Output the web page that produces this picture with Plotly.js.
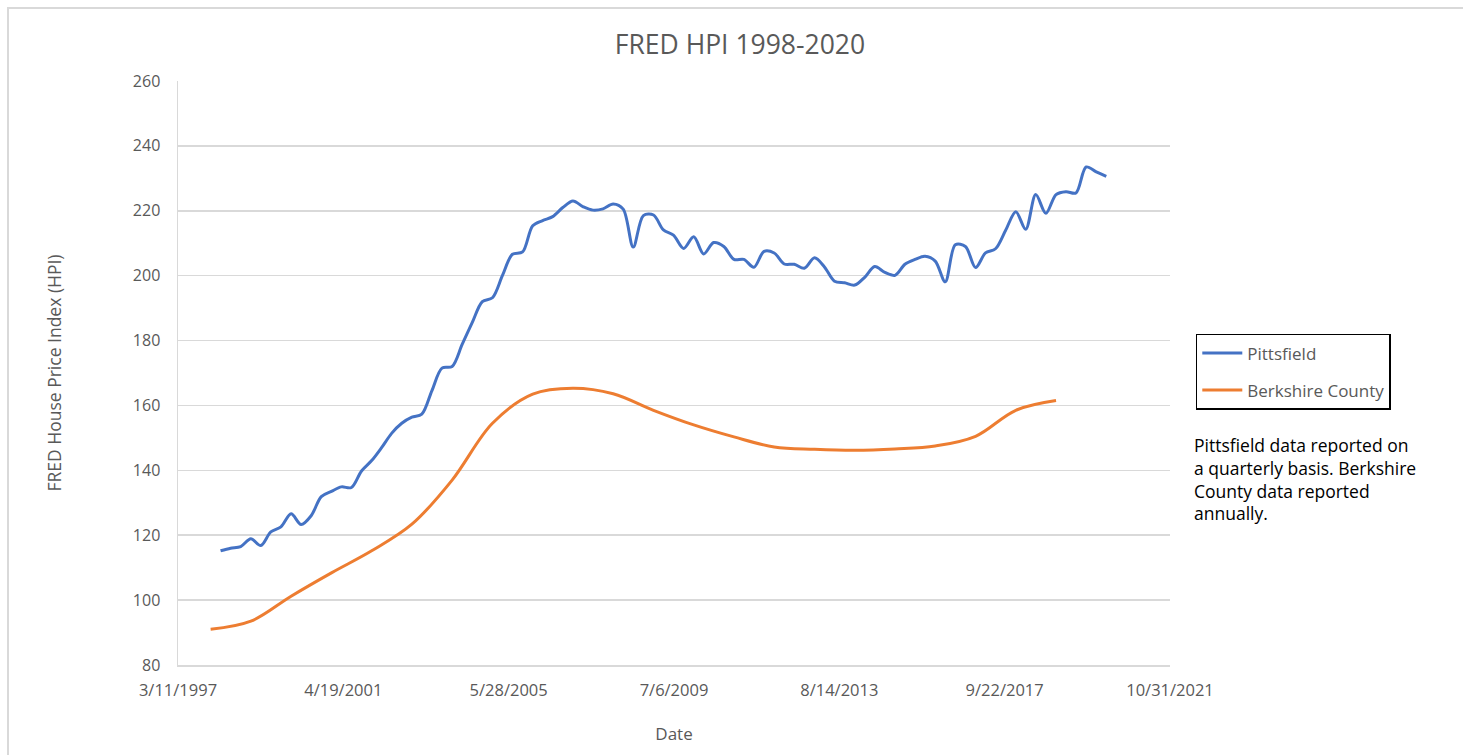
<!DOCTYPE html>
<html>
<head>
<meta charset="utf-8">
<script src="https://cdn.plot.ly/plotly-3.0.1.min.js"></script>
<style>
  html, body { margin: 0; padding: 0; background: #ffffff; overflow: hidden; }
  #chart { position: absolute; left: 0; top: 0; width: 1463px; height: 755px; }
  #frame { position: absolute; left: 7px; top: 7px; width: 1470px; height: 770px;
           border-top: 2px solid #d9d9d9; border-left: 2px solid #d9d9d9; pointer-events: none; }
</style>
</head>
<body>
<div id="chart"></div>
<div id="frame"></div>
<script>
// ---- Data ----
const pittsfieldDates = [
  "1998-04-01","1998-07-01","1998-10-01",
  "1999-01-01","1999-04-01","1999-07-01","1999-10-01",
  "2000-01-01","2000-04-01","2000-07-01","2000-10-01",
  "2001-01-01","2001-04-01","2001-07-01","2001-10-01",
  "2002-01-01","2002-04-01","2002-07-01","2002-10-01",
  "2003-01-01","2003-04-01","2003-07-01","2003-10-01",
  "2004-01-01","2004-04-01","2004-07-01","2004-10-01",
  "2005-01-01","2005-04-01","2005-07-01","2005-10-01",
  "2006-01-01","2006-04-01","2006-07-01","2006-10-01",
  "2007-01-01","2007-04-01","2007-07-01","2007-10-01",
  "2008-01-01","2008-04-01","2008-07-01","2008-10-01",
  "2009-01-01","2009-04-01","2009-07-01","2009-10-01",
  "2010-01-01","2010-04-01","2010-07-01","2010-10-01",
  "2011-01-01","2011-04-01","2011-07-01","2011-10-01",
  "2012-01-01","2012-04-01","2012-07-01","2012-10-01",
  "2013-01-01","2013-04-01","2013-07-01","2013-10-01",
  "2014-01-01","2014-04-01","2014-07-01","2014-10-01",
  "2015-01-01","2015-04-01","2015-07-01","2015-10-01",
  "2016-01-01","2016-04-01","2016-07-01","2016-10-01",
  "2017-01-01","2017-04-01","2017-07-01","2017-10-01",
  "2018-01-01","2018-04-01","2018-07-01","2018-10-01",
  "2019-01-01","2019-04-01","2019-07-01","2019-10-01",
  "2020-01-01","2020-04-01"
];
const pittsfieldHPI = [
  115.2, 116.0, 116.5,
  118.9, 116.8, 121.0, 122.6,
  126.6, 123.3, 126.0, 131.9,
  133.5, 134.9, 134.7, 139.8,
  143.0, 147.0, 151.4, 154.5,
  156.4, 157.3, 164.5, 171.5,
  172.0, 178.8, 185.5, 192.0,
  193.2, 200.0, 206.6, 207.3,
  215.4, 217.0, 218.2, 221.0,
  223.0, 221.3, 220.2, 220.6,
  222.1, 220.5, 208.8, 218.5,
  218.7, 214.1, 212.5, 208.4,
  212.0, 206.7, 210.2, 209.0,
  205.0, 205.0, 202.6, 207.5,
  207.0, 203.6, 203.5, 202.3,
  205.5, 202.7, 198.3, 197.8,
  197.1, 199.5, 202.8, 201.0,
  200.1, 203.5, 205.0, 206.0,
  204.5, 198.1, 209.5, 209.0,
  202.5, 207.0, 208.3, 214.0,
  219.7, 214.3, 225.0, 219.2,
  225.0, 225.9, 225.5, 233.5,
  232.0, 230.6
];
const berkshireDates = [
  "1998-01-01","1999-01-01","2000-01-01","2001-01-01","2002-01-01","2003-01-01",
  "2004-01-01","2005-01-01","2006-01-01","2007-01-01","2008-01-01","2009-01-01",
  "2010-01-01","2011-01-01","2012-01-01","2013-01-01","2014-01-01","2015-01-01",
  "2016-01-01","2017-01-01","2018-01-01","2019-01-01"
];
const berkshireHPI = [
  91.0, 93.5, 101.2, 108.4, 115.2, 123.4,
  137.0, 154.5, 163.5, 165.3, 163.6, 158.5,
  154.0, 150.3, 147.2, 146.5, 146.2, 146.6,
  147.5, 150.5, 158.5, 161.5
];
const xTickVals = ["1997-03-11","2001-04-19","2005-05-28","2009-07-06","2013-08-14","2017-09-22","2021-10-31"];
const xTickText = ["3/11/1997","4/19/2001","5/28/2005","7/6/2009","8/14/2013","9/22/2017","10/31/2021"];
const seriesNames = ["Pittsfield", "Berkshire County"];
const chartTitle = "FRED HPI 1998-2020";
const xTitle = "Date";
const yTitle = "FRED House Price Index (HPI)";
const noteText = "Pittsfield data reported on<br>a quarterly basis. Berkshire<br>County data reported<br>annually.";

// ---- Chart ----
const FONT = "'Open Sans', Lato, sans-serif";
const GREY = "#595959";

const traces = [
  {
    x: pittsfieldDates, y: pittsfieldHPI, name: seriesNames[0],
    type: "scatter", mode: "lines", legendgroup: "a",
    line: { color: "#4472C4", width: 3, shape: "spline", smoothing: 0.9 }
  },
  {
    x: berkshireDates, y: berkshireHPI, name: seriesNames[1],
    type: "scatter", mode: "lines", legendgroup: "b",
    line: { color: "#ED7D31", width: 3, shape: "spline", smoothing: 1.0 }
  }
];

const layout = {
  width: 1463, height: 755,
  margin: { l: 178, r: 293, t: 81, b: 90 },
  paper_bgcolor: "rgba(0,0,0,0)",
  plot_bgcolor: "#ffffff",
  font: { family: FONT, color: GREY, size: 16 },
  title: {
    text: chartTitle,
    font: { family: FONT, size: 26.5, color: GREY },
    x: 0.5665, xref: "paper", xanchor: "center",
    y: 1, yref: "container", yanchor: "top", pad: { t: 35 }
  },
  xaxis: {
    type: "date",
    range: ["1997-03-11", "2021-10-31"],
    tickmode: "array", tickvals: xTickVals, ticktext: xTickText,
    showgrid: false, zeroline: false,
    showline: true, linecolor: "#d9d9d9", linewidth: 1.5,
    ticks: "", ticklen: 0, ticklabelstandoff: 10,
    tickfont: { family: FONT, size: 16.5, color: GREY },
    title: { text: xTitle, font: { family: FONT, size: 17, color: GREY }, standoff: 28 }
  },
  yaxis: {
    range: [80, 260], dtick: 20, tick0: 80,
    showgrid: true, gridcolor: "#d9d9d9", gridwidth: 1.5,
    zeroline: false, showline: true, linecolor: "#d9d9d9", linewidth: 1.5,
    ticks: "", ticklabelstandoff: 13,
    tickfont: { family: FONT, size: 16, color: GREY },
    title: { text: yTitle, font: { family: FONT, size: 17.5, color: GREY }, standoff: 66 }
  },
  showlegend: true,
  legend: {
    x: 1.026, xanchor: "left",
    y: 0.567, yanchor: "top",
    bordercolor: "#000000", borderwidth: 1.5,
    bgcolor: "#ffffff",
    font: { family: FONT, size: 17, color: GREY },
    tracegroupgap: 12,
    traceorder: "grouped",
    itemwidth: 40
  },
  annotations: [
    {
      text: noteText, xref: "paper", yref: "paper",
      x: 1.022, y: 0.400, xanchor: "left", yanchor: "top",
      align: "left", showarrow: false,
      font: { family: FONT, size: 17.5, color: "#000000" }
    }
  ]
};

Plotly.newPlot("chart", traces, layout, { displayModeBar: false, staticPlot: true });
</script>
</body>
</html>
